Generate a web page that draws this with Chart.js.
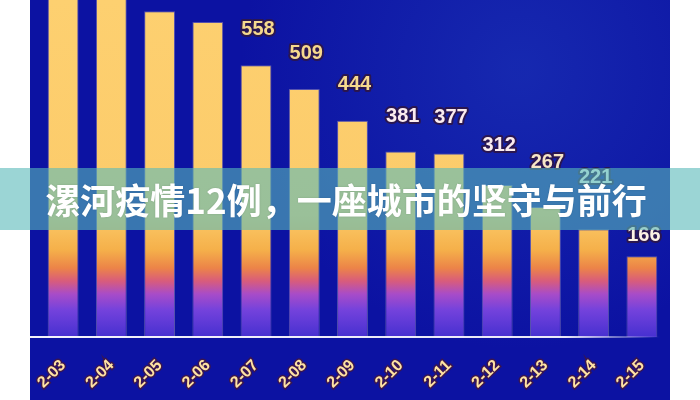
<!DOCTYPE html>
<html>
<head>
<meta charset="utf-8">
<script src="https://cdn.jsdelivr.net/npm/chart.js@4.4.1/dist/chart.umd.min.js"></script>
<style>
    html, body { margin: 0; padding: 0; background: #fff; }
    #wrap { width: 700px; height: 400px; }
</style>
</head>
<body>
<div id="wrap"><canvas id="casesChart" width="700" height="400"></canvas></div>
<script>
// daily numbers (first four bars run off the top)
var dates = ['2-03', '2-04', '2-05', '2-06', '2-07', '2-08', '2-09', '2-10', '2-11', '2-12', '2-13', '2-14', '2-15'];
var cases = [750, 715, 669, 647, 558, 509, 444, 381, 377, 312, 267, 221, 166];
var yMax = 692;
var title = '漯河疫情12例，一座城市的坚守与前行';

// label colours / gaps above each bar
var labelColors = ['#f6d98e', '#f6d98e', '#f6d98e', '#f6d98e', '#f6d98e', '#f6d98e', '#f6d98e',
    '#fbecef', '#fbecef', '#fbecef', '#f6e6c6', '#eef6f0', '#fdf1e4'];
var labelGaps = [36, 36, 36, 36, 36, 36, 36, 35, 36, 40, 44, 52, 21];

function barGradient(context) {
    var chart = context.chart;
    var area = chart.chartArea;
    if (!area) return '#fccd6c';
    var h = area.bottom - area.top;
    var g = chart.ctx.createLinearGradient(0, area.top, 0, area.bottom);
    g.addColorStop(0, '#fdd070');
    g.addColorStop(215 / h, '#fccb6a');
    g.addColorStop(250 / h, '#f5b04a');
    g.addColorStop(268 / h, '#ec8448');
    g.addColorStop(281 / h, '#d85c7c');
    g.addColorStop(294 / h, '#a84cc8');
    g.addColorStop(310 / h, '#7442dc');
    g.addColorStop(1, '#4630d0');
    return g;
}

var backdrop = {
    id: 'backdrop',
    beforeDraw: function (chart) {
        var ctx = chart.ctx;
        ctx.save();
        ctx.fillStyle = '#ffffff';
        ctx.fillRect(0, 0, 700, 400);
        ctx.fillStyle = '#0c12a2';
        ctx.fillRect(30, 0, 640, 400);
        var r = ctx.createRadialGradient(520, 70, 10, 520, 70, 280);
        r.addColorStop(0, 'rgba(40, 80, 200, 0.35)');
        r.addColorStop(1, 'rgba(40, 80, 200, 0)');
        ctx.fillStyle = r;
        ctx.fillRect(30, 0, 640, 400);
        ctx.restore();
    },
    afterDatasetsDraw: function (chart) {
        var ctx = chart.ctx;
        var area = chart.chartArea;
        ctx.save();
        // white base line
        var lg = ctx.createLinearGradient(30, 0, 660, 0);
        lg.addColorStop(0, 'rgba(255,255,255,0.95)');
        lg.addColorStop(0.85, 'rgba(255,255,255,0.9)');
        lg.addColorStop(1, 'rgba(255,255,255,0)');
        ctx.strokeStyle = lg;
        ctx.lineWidth = 2;
        ctx.beginPath();
        ctx.moveTo(30, area.bottom);
        ctx.lineTo(660, area.bottom);
        ctx.stroke();

        // value labels
        var meta = chart.getDatasetMeta(0);
        ctx.font = 'bold 20px "Liberation Sans", Arial, sans-serif';
        ctx.textAlign = 'center';
        ctx.textBaseline = 'middle';
        ctx.lineJoin = 'round';
        meta.data.forEach(function (bar, i) {
            var y = bar.y - labelGaps[i];
            ctx.lineWidth = 4;
            ctx.strokeStyle = '#2a1650';
            ctx.strokeText(cases[i], bar.x + 2, y);
            ctx.fillStyle = labelColors[i];
            ctx.fillText(cases[i], bar.x + 2, y);
        });
        ctx.restore();
    },
    afterDraw: function (chart) {
        var ctx = chart.ctx;
        ctx.save();
        ctx.fillStyle = 'rgba(89, 185, 185, 0.6)';
        ctx.fillRect(0, 168, 700, 62);
        ctx.font = 'bold 35px "Noto Sans CJK SC", sans-serif';
        ctx.textAlign = 'center';
        ctx.textBaseline = 'middle';
        ctx.shadowColor = 'rgba(0,0,0,0.15)';
        ctx.shadowBlur = 2;
        ctx.fillStyle = '#ffffff';
        ctx.fillText(title, 346, 201);
        ctx.restore();
    }
};

var ctx = document.getElementById('casesChart');
var casesChart = new Chart(ctx, {
    type: 'bar',
    data: {
        labels: dates,
        datasets: [{
            data: cases,
            backgroundColor: barGradient,
            borderColor: 'rgba(255, 225, 200, 0.3)',
            borderWidth: 1,
            barPercentage: 0.8,
            categoryPercentage: 0.8
        }]
    },
    options: {
        responsive: false,
        animation: false,
        layout: {
            padding: { left: 39, right: 34, top: 0, bottom: 0 }
        },
        plugins: {
            legend: { display: false },
            tooltip: { enabled: false }
        },
        scales: {
            x: {
                grid: { display: false, drawTicks: false },
                border: { display: false },
                ticks: {
                    color: '#ffe3a3',
                    font: { size: 16, weight: 'bold', family: '"Liberation Sans", Arial, sans-serif' },
                    minRotation: 45,
                    maxRotation: 45,
                    padding: 19,
                    textStrokeColor: '#3a1650',
                    textStrokeWidth: 3
                },
                afterFit: function (scale) {
                    scale.height = 63;
                }
            },
            y: {
                display: false,
                min: 0,
                max: yMax
            }
        }
    },
    plugins: [backdrop]
});
</script>
</body>
</html>
